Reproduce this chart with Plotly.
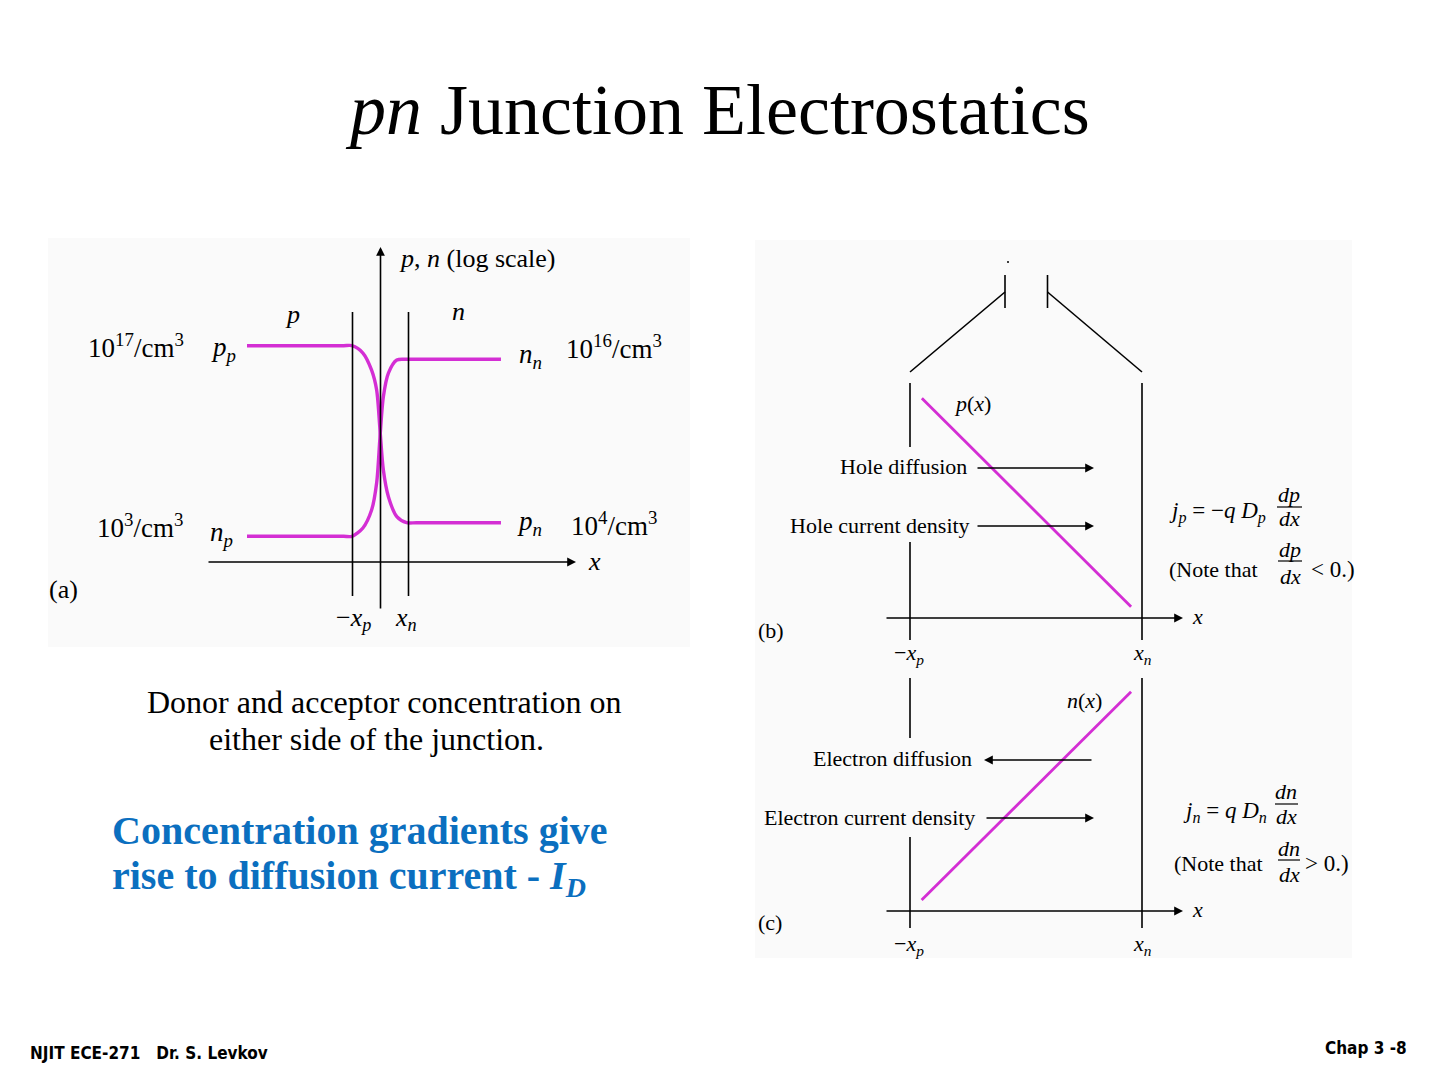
import plotly.graph_objects as go

W, H = 1440, 1080
SERIF = "Liberation Serif, Times New Roman, serif"
NARROW = "Liberation Sans Narrow, Arial Narrow, DejaVu Sans Condensed, sans-serif"
MAGENTA = "#d42ed4"
BLUE = "#0b6fbf"

# ---------------- Data ----------------
# Panel (a): carrier concentrations (cm^-3) vs position (x in units of x_p = x_n)
pos_a = [-4.75, -2.5, -1.3, -1.0, -0.61, -0.30, -0.12, 0.0, 0.12, 0.30, 0.60, 0.95, 1.3, 2.5, 4.32]
p_conc = [1e17, 1e17, 1e17, 1e17, 2.9e16, 1.6e15, 5.6e13, 6.5e10, 7.4e7, 8.1e5, 2.8e4, 1e4, 1e4, 1e4, 1e4]
n_conc = [1e3, 1e3, 1e3, 1e3, 4.1e3, 8.5e4, 8.3e6, 1.95e10, 1.8e13, 9.8e14, 8.9e15, 1e16, 1e16, 1e16, 1e16]

# Panel (b): hole concentration across depletion region (fraction of -x_p .. x_n)
pos_b = [0.055, 0.949]
p_lin = [0.935, 0.048]

# Panel (c): electron concentration across depletion region
pos_c = [0.054, 0.949]
n_lin = [0.047, 0.941]

# ---------------- helpers ----------------
shapes, annotations = [], []


def X(px):
    return px / W


def Y(py):
    return 1 - py / H


def seg(x0, y0, x1, y1, w=1.6, color="black"):
    shapes.append(dict(type="line", xref="paper", yref="paper",
                       x0=X(x0), y0=Y(y0), x1=X(x1), y1=Y(y1),
                       line=dict(color=color, width=w)))


def rect(x0, y0, x1, y1, fill):
    shapes.append(dict(type="rect", xref="paper", yref="paper", layer="below",
                       x0=X(x0), y0=Y(y0), x1=X(x1), y1=Y(y1),
                       fillcolor=fill, line=dict(width=0)))


def txt(px, py, s, size=22, xanchor="left", color="black", family=SERIF):
    annotations.append(dict(xref="paper", yref="paper", x=X(px), y=Y(py), text=s,
                            showarrow=False, xanchor=xanchor, yanchor="middle",
                            font=dict(size=size, color=color, family=family)))


def arrow(xt, yt, xh, yh, w=1.6):
    annotations.append(dict(xref="paper", yref="paper", x=X(xh), y=Y(yh),
                            ax=xt - xh, ay=yt - yh, text="", showarrow=True,
                            arrowhead=2, arrowsize=1.1, arrowwidth=w,
                            arrowcolor="black", standoff=0))


def frac(cx, ytop, ybar, ybot, num, den, x0, x1, size=22):
    txt(cx, ytop, num, size=size, xanchor="center")
    seg(x0, ybar, x1, ybar, w=1.2)
    txt(cx, ybot, den, size=size, xanchor="center")


# ---------------- figure ----------------
fig = go.Figure()
fig.add_trace(go.Scatter(x=pos_a, y=p_conc, mode="lines", xaxis="x", yaxis="y",
                         line=dict(color=MAGENTA, width=3.4, shape="spline", smoothing=0.8),
                         hoverinfo="skip"))
fig.add_trace(go.Scatter(x=pos_a, y=n_conc, mode="lines", xaxis="x", yaxis="y",
                         line=dict(color=MAGENTA, width=3.4, shape="spline", smoothing=0.8),
                         hoverinfo="skip"))
fig.add_trace(go.Scatter(x=pos_b, y=p_lin, mode="lines", xaxis="x2", yaxis="y2",
                         line=dict(color=MAGENTA, width=2.8), hoverinfo="skip"))
fig.add_trace(go.Scatter(x=pos_c, y=n_lin, mode="lines", xaxis="x3", yaxis="y3",
                         line=dict(color=MAGENTA, width=2.8), hoverinfo="skip"))

# backgrounds of the figure panels
rect(48, 238, 690, 647, "#fafafa")
rect(755, 240, 1352, 958, "#fafafa")

# Title
txt(717, 110, "<i>pn</i> Junction Electrostatics", size=72, xanchor="center")

# ---- Panel (a) ----
arrow(207, 562, 576, 562)
arrow(380.5, 610, 380.5, 247)
seg(352.5, 312, 352.5, 596)
seg(408.5, 312, 408.5, 596)
txt(397, 258, "<i>p</i>, <i>n</i> (log scale)", size=26)
txt(292, 314, "<i>p</i>", size=26, xanchor="center")
txt(459, 312, "<i>n</i>", size=26, xanchor="center")
txt(186, 346, "10<sup>17</sup>/cm<sup>3</sup>", size=27, xanchor="right")
txt(209, 349, "<i>p</i><sub><i>p</i></sub>", size=27)
txt(185, 526, "10<sup>3</sup>/cm<sup>3</sup>", size=27, xanchor="right")
txt(208, 534, "<i>n</i><sub><i>p</i></sub>", size=27)
txt(517, 356, "<i>n</i><sub><i>n</i></sub>", size=27)
txt(564, 347, "10<sup>16</sup>/cm<sup>3</sup>", size=27)
txt(515, 523, "<i>p</i><sub><i>n</i></sub>", size=27)
txt(569, 524, "10<sup>4</sup>/cm<sup>3</sup>", size=27)
txt(586, 561, "<i>x</i>", size=26)
txt(47, 589, "(a)", size=26)
txt(353, 619, "−<i>x</i><sub><i>p</i></sub>", size=26, xanchor="center")
txt(406, 619, "<i>x</i><sub><i>n</i></sub>", size=26, xanchor="center")

# caption
txt(384, 702, "Donor and acceptor concentration on", size=32, xanchor="center")
txt(376, 739, "either side of the junction.", size=32, xanchor="center")

# blue statement
txt(110, 830, "<b>Concentration gradients give</b>", size=40, color=BLUE)
txt(110, 878, "<b>rise to diffusion current - <i>I</i><sub><i>D</i></sub></b>", size=40, color=BLUE)

# ---- Panel (b) ----
seg(910, 372, 1005, 292)
seg(1005, 275, 1005, 308)
seg(1047.5, 275, 1047.5, 308)
seg(1047.5, 292, 1142, 372)
shapes.append(dict(type="circle", xref="paper", yref="paper",
                   x0=X(1007), y0=Y(261), x1=X(1009), y1=Y(263),
                   fillcolor="black", line=dict(width=0)))
seg(910, 383, 910, 447)
seg(910, 542, 910, 640)
seg(1142, 383, 1142, 640)
arrow(885, 618, 1183, 618)
txt(1190, 616, "<i>x</i>", size=22)
txt(756, 630, "(b)", size=22)
txt(909, 654, "−<i>x</i><sub><i>p</i></sub>", size=22, xanchor="center")
txt(1142, 654, "<i>x</i><sub><i>n</i></sub>", size=22, xanchor="center")
txt(952, 404, "<i>p</i>(<i>x</i>)", size=22)
txt(969, 466, "Hole diffusion", size=22, xanchor="right")
arrow(976, 468, 1094, 468)
txt(972, 525, "Hole current density", size=22, xanchor="right")
arrow(976, 526, 1094, 526)
txt(1167, 512, "<i>j</i><sub><i>p</i></sub> = −<i>q D</i><sub><i>p</i></sub>", size=23)
frac(1289, 494, 507, 518, "<i>dp</i>", "<i>dx</i>", 1277, 1302)
txt(1167, 569, "(Note that", size=22)
frac(1290, 549, 561, 576, "<i>dp</i>", "<i>dx</i>", 1278, 1302)
txt(1309, 569, "&lt; 0.)", size=23)

# ---- Panel (c) ----
seg(910, 678, 910, 738)
seg(910, 837, 910, 928)
seg(1142, 678, 1142, 928)
arrow(885, 911, 1183, 911)
txt(1190, 909, "<i>x</i>", size=22)
txt(756, 922, "(c)", size=22)
txt(909, 945, "−<i>x</i><sub><i>p</i></sub>", size=22, xanchor="center")
txt(1142, 945, "<i>x</i><sub><i>n</i></sub>", size=22, xanchor="center")
txt(1065, 700, "<i>n</i>(<i>x</i>)", size=22)
txt(974, 759, "Electron diffusion", size=22, xanchor="right")
arrow(1093, 760, 984, 760)
txt(977, 817, "Electron current density", size=22, xanchor="right")
arrow(985, 818, 1094, 818)
txt(1181, 812, "<i>j</i><sub><i>n</i></sub> = <i>q D</i><sub><i>n</i></sub>", size=23)
frac(1286, 791, 804, 816, "<i>dn</i>", "<i>dx</i>", 1275, 1298)
txt(1172, 863, "(Note that", size=22)
frac(1289, 848, 860, 874, "<i>dn</i>", "<i>dx</i>", 1278, 1300)
txt(1303, 863, "&gt; 0.)", size=23)

# footer
txt(28, 1053, "<b>NJIT ECE-271   Dr. S. Levkov</b>", size=17, family=NARROW)
txt(1409, 1048, "<b>Chap 3 -8</b>", size=17, xanchor="right", family=NARROW)

fig.update_layout(
    width=W, height=H,
    margin=dict(l=0, r=0, t=0, b=0),
    paper_bgcolor="white",
    plot_bgcolor="rgba(0,0,0,0)",
    showlegend=False,
    shapes=shapes,
    annotations=annotations,
    xaxis=dict(domain=[207 / W, 575 / W], range=[-173 / 28, 195 / 28], visible=False,
               anchor="y", fixedrange=True),
    yaxis=dict(domain=[Y(563), Y(248)], type="log", range=[1.039, 24.175], visible=False,
               anchor="x", fixedrange=True),
    xaxis2=dict(domain=[909 / W, 1143 / W], range=[0, 1], visible=False, anchor="y2"),
    yaxis2=dict(domain=[Y(618), Y(383)], range=[0, 1], visible=False, anchor="x2"),
    xaxis3=dict(domain=[909 / W, 1143 / W], range=[0, 1], visible=False, anchor="y3"),
    yaxis3=dict(domain=[Y(911), Y(678)], range=[0, 1], visible=False, anchor="x3"),
)

fig.write_html("out.html", config={"displayModeBar": False},
               post_script="document.body.style.margin='0';")
